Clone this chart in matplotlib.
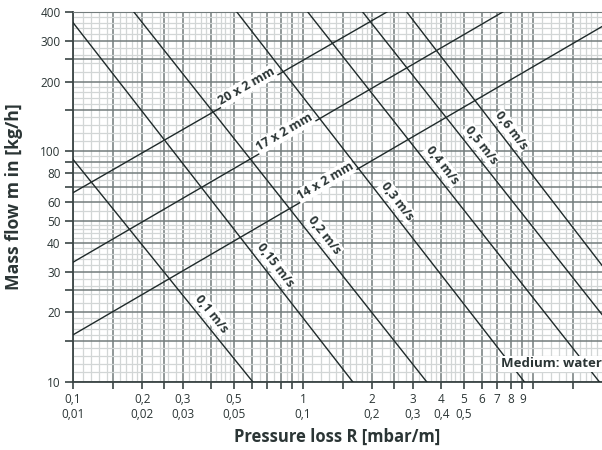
import matplotlib.pyplot as plt
import numpy as np

plt.rcParams['font.family'] = ['Open Sans', 'DejaVu Sans']

vel_names = ['0,1 m/s', '0,15 m/s', '0,2 m/s', '0,3 m/s', '0,4 m/s', '0,5 m/s', '0,6 m/s']
vel_R = [[0.1, 0.606], [0.1, 1.65], [0.184, 3.46], [0.516, 9.2], [1.05, 19.5], [1.82, 20], [2.83, 20]]
vel_m = [[92, 10], [360, 10], [400, 10], [400, 10], [400, 10], [400, 19.6], [400, 32]]
vel_label_R = [0.368, 0.698, 1.14, 2.37, 3.72, 5.5, 7.42]

# Rohrlinien
pipe_names = ['14 x 2 mm', '17 x 2 mm', '20 x 2 mm']
pipe_R = [[0.1, 20], [0.1, 7.4], [0.1, 2.32]]
pipe_m = [[16, 346], [33, 400], [66, 400]]
pipe_label_R = [1.29, 0.856, 0.584]

x_ticks = [0.1, 0.15, 0.2, 0.25, 0.3, 0.4, 0.5, 0.6, 0.7, 0.8, 0.9,
           1, 1.5, 2, 2.5, 3, 4, 5, 6, 7, 8, 9, 10, 15]
x_labels = {0.1: '0,1\n0,01', 0.2: '0,2\n0,02', 0.3: '0,3\n0,03', 0.5: '0,5\n0,05',
            1: '1\n0,1', 2: '2\n0,2', 3: '3\n0,3', 4: '4\n0,4', 5: '5\n0,5',
            6: '6', 7: '7', 8: '8', 9: '9'}
y_ticks = [10, 15, 20, 25, 30, 40, 50, 60, 70, 80, 90, 100, 150, 200, 250, 300, 400]
y_labels = {10: '10', 20: '20', 30: '30', 40: '40', 50: '50', 60: '60', 80: '80',
            100: '100', 200: '200', 300: '300', 400: '400'}

dark = '#737c7c'
light = '#d2d6d6'
ink = '#1f2a2a'
txt = '#2b3535'

fig = plt.figure(figsize=(6.02, 4.5), dpi=100)
ax = fig.add_axes([73 / 602, 68 / 450, 529 / 602, 370 / 450])
ax.set_xscale('log')
ax.set_yscale('log')
ax.set_xlim(0.1, 20)
ax.set_ylim(10, 400)

# feines Raster wie auf Logpapier
steps = np.concatenate([np.arange(1.1, 2.0, 0.1), np.arange(2.2, 5.0, 0.2), np.arange(5.5, 10, 0.5)])
xf = [v * d for d in (0.1, 1, 10) for v in steps if v * d < 20]
yf = [v * d for d in (10, 100) for v in steps if v * d < 400]

ax.set_xticks(x_ticks)
ax.set_xticklabels([x_labels.get(t, '') for t in x_ticks])
ax.set_xticks(xf, minor=True)
ax.set_xticklabels([], minor=True)
ax.set_yticks(y_ticks)
ax.set_yticklabels([y_labels.get(t, '') for t in y_ticks])
ax.set_yticks(yf, minor=True)
ax.set_yticklabels([], minor=True)

ax.grid(which='minor', color=light, linewidth=0.9)
ax.grid(which='major', color=dark, linewidth=1.1)
ax.set_axisbelow(True)
ax.tick_params(which='minor', length=0)
ax.tick_params(axis='x', which='major', length=5, width=1.2, color='#3a4444',
               labelsize=8.5, labelcolor=txt, pad=3)
ax.tick_params(axis='y', which='major', length=6, width=1.2, color='#3a4444',
               labelsize=8.5, labelcolor=txt, pad=3)

for s in ['left', 'bottom']:
    ax.spines[s].set_color('#3a4444')
    ax.spines[s].set_linewidth(1.3)
ax.spines['top'].set_color(dark)
ax.spines['right'].set_visible(False)

def draw_family(names, Rs, ms, label_R, off_pt):
    for name, R, m, lr in zip(names, Rs, ms, label_R):
        ax.plot(R, m, color=ink, linewidth=1.0, zorder=3)
        t = (np.log10(lr) - np.log10(R[0])) / (np.log10(R[1]) - np.log10(R[0]))
        lm = 10 ** (np.log10(m[0]) + t * (np.log10(m[1]) - np.log10(m[0])))
        p1 = ax.transData.transform((R[0], m[0]))
        p2 = ax.transData.transform((R[1], m[1]))
        ang = np.arctan2(p2[1] - p1[1], p2[0] - p1[0])
        nx, ny = -np.sin(ang), np.cos(ang)
        ax.annotate(name, (lr, lm), xytext=(nx * off_pt, ny * off_pt), textcoords='offset points',
                    rotation=np.degrees(ang), rotation_mode='anchor', ha='center', va='center',
                    fontsize=9, fontweight='bold', color=txt, zorder=5,
                    bbox=dict(boxstyle='square,pad=0.08', fc='white', ec='none'))

draw_family(vel_names, vel_R, vel_m, vel_label_R, 7.5)
draw_family(pipe_names, pipe_R, pipe_m, pipe_label_R, 4)

ax.text(1.0, 0.049, 'Medium: water', transform=ax.transAxes, ha='right', va='center',
        fontsize=9.5, fontweight='bold', color=txt, zorder=6,
        bbox=dict(boxstyle='square,pad=0.1', fc='white', ec='none'))

ax.set_xlabel('Pressure loss R [mbar/m]', fontsize=12, fontweight='bold', color=txt)
ax.set_ylabel('Mass flow m in [kg/h]', fontsize=12.7, fontweight='bold', color=txt)
ax.xaxis.set_label_coords(0.499, -0.125)
ax.yaxis.set_label_coords(-0.094, 0.5)

fig.savefig('out.png', dpi=100)
